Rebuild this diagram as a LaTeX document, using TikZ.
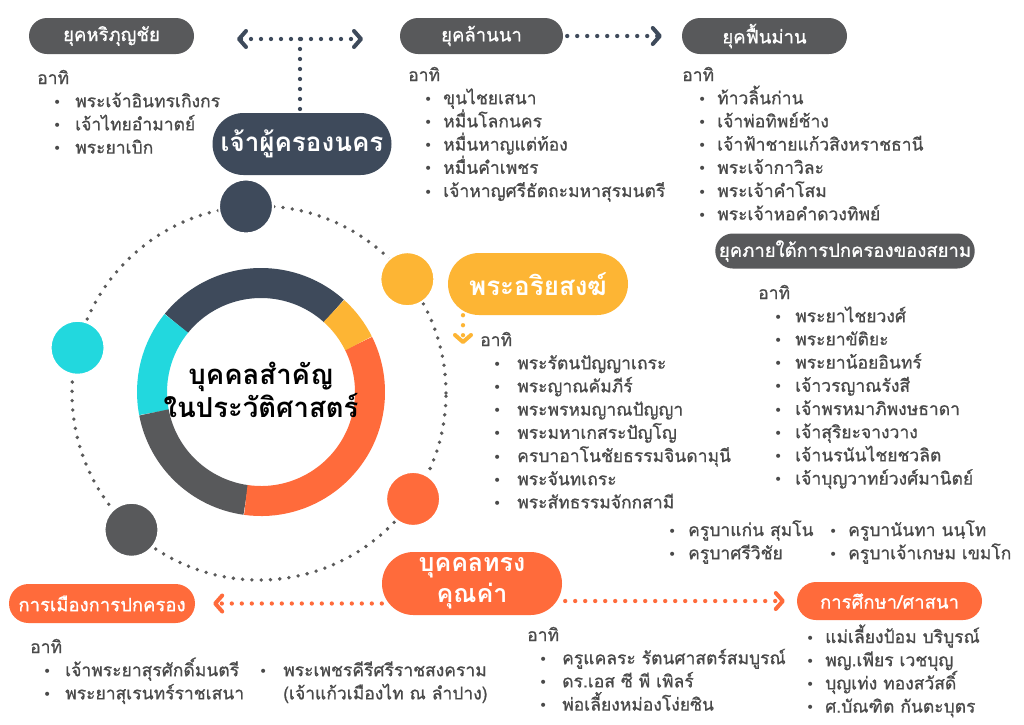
\documentclass[tikz,border=0pt]{standalone}
\usepackage{fontspec}
\usetikzlibrary{arrows.meta,shapes.misc}
\newfontfamily\thai[Script=Thai]{Loma}
\newfontfamily\thaim[Script=Thai, FakeBold=0.9]{Loma}
\newfontfamily\dejavu{DejaVu Sans}
\definecolor{navy}{HTML}{3E4A5B}
\definecolor{dgray}{HTML}{58595B}
\definecolor{yel}{HTML}{FDB534}
\definecolor{org}{HTML}{FF6B3B}
\definecolor{cyn}{HTML}{22D8DE}
\definecolor{txt}{HTML}{4A4A4A}
\definecolor{dotc}{HTML}{5A5A5A}
\newcommand\bul{{\dejavu\fontsize{14}{14}\selectfont •}}
\newcommand\Lst[1]{\vtop{\lineskiplimit=-100pt\lineskip=0pt\baselineskip=23.2pt #1}}
\newcommand\Ln[1]{\hbox{#1}}
\newcommand\It[3]{\hbox{\hspace*{#1pt}\makebox[#2pt][l]{\bul}#3}}
\tikzset{
  chev/.tip={Straight Barb[length=7pt, width=16pt, line width=4pt, round]},
  pill/.style={rounded rectangle, fill=#1, inner sep=0pt, text=white},
  smallpill/.style={pill=#1, font=\thaim\fontsize{18.5}{20}\selectfont},
  bigpill/.style={pill=#1, font=\thai\bfseries\fontsize{26}{30}\selectfont},
  lst/.style={anchor=base west, inner sep=0pt, text=txt, font=\thaim\fontsize{17.5}{23.2}\selectfont},
  dotline/.style={#1, line width=4.3pt, line cap=round, dash pattern=on 0pt off 10pt},
  ball/.style={circle, fill=#1, minimum size=54pt, inner sep=0pt, draw=white, line width=2pt}
}
\begin{document}
\begin{tikzpicture}[x=1pt,y=1pt]
\useasboundingbox (0,0) rectangle (1024,-724);
\fill[white] (0,0) rectangle (1024,-724);

% outer dotted circle
\coordinate (oc) at (259,-393);
\draw[dotc, line width=3.8pt, line cap=round, dash pattern=on 0pt off 9.3pt] (oc) circle[radius=187];

% donut
\coordinate (dc) at (261,-392);
\foreach \a/\b/\c in {48/141/navy, 141/190.8/cyn, 190.8/262/dgray, 262/386.5/org, 386.5/408/yel}
  \draw[\c, line width=30pt] ([shift={(\a:109)}]dc) arc[start angle=\a, end angle=\b, radius=109];
\node[font=\thai\bfseries\fontsize{27.5}{27}\selectfont, align=center, text=black] (title) at ([yshift=2pt]dc) {บุคคลสำคัญ\\ในประวัติศาสตร์};

% balls on the dotted circle
\node[ball=navy]  (bN) at ([shift={(94:187)}]oc) {};
\node[ball=yel]   (bY) at ([shift={(37.5:187)}]oc) {};
\node[ball=cyn]   (bC) at ([shift={(166:187)}]oc) {};
\node[ball=dgray] (bG) at ([shift={(227:187)}]oc) {};
\node[ball=org]   (bO) at ([shift={(-34.5:187)}]oc) {};

% pills
\node[smallpill=dgray, minimum width=165pt, minimum height=36pt] (hari) at (111.5,-36) {ยุคหริภุญชัย};
\node[smallpill=dgray, minimum width=163pt, minimum height=36pt] (lanna) at (481.5,-36) {ยุคล้านนา};
\node[smallpill=dgray, minimum width=165pt, minimum height=36pt] (fuen) at (764.5,-36) {ยุคฟื้นม่าน};
\node[smallpill=dgray, minimum width=254pt, minimum height=35pt] (siam) at (845,-251) {ยุคภายใต้การปกครองของสยาม};
\node[bigpill=navy, minimum width=179pt, minimum height=62pt] (ruler) at (302,-144) {เจ้าผู้ครองนคร};
\node[bigpill=yel, minimum width=180pt, minimum height=62pt] (ariya) at (538,-284) {พระอริยสงฆ์};
\node[pill=org, minimum width=180pt, minimum height=63pt, align=center, font=\thai\bfseries\fontsize{25}{31}\selectfont] (worth) at (472,-583.5) {บุคคลทรง\\คุณค่า};
\node[smallpill=org, minimum width=186pt, minimum height=39pt] (pol) at (102,-603.5) {การเมืองการปกครอง};
\node[smallpill=org, minimum width=185pt, minimum height=38pt] (edu) at (889.5,-601) {การศึกษา/ศาสนา};

% connectors
\coordinate (hL) at (237,-39);
\coordinate (hR) at (363,-39);
\coordinate (hM) at (300,-39);
\draw[dotline=navy, chev-chev] (hL) -- (hR);
\draw[dotline=navy] (hM) -- (hM |- ruler.north);
\draw[dotline=navy, -chev, shorten <=4pt, shorten >=20pt] (lanna.east) -- (fuen.west);
\coordinate (aEnd) at (463,-344);
\draw[dotline=yel, -chev] (ariya.south -| aEnd) -- (aEnd);
\draw[dotline=org, -chev, shorten >=18pt] (worth.west |- pol.east) -- (pol.east);
\draw[dotline=org, -chev, shorten <=3pt, shorten >=12pt] (worth.east |- edu.west) -- (edu.west);

% lists
\node[lst] (l1) at (37,-84) {\Lst{\Ln{อาทิ}\It{16}{22}{พระเจ้าอินทรเกิงกร}\It{16}{22}{เจ้าไทยอำมาตย์}\It{16}{22}{พระยาเบิก}}};
\node[lst] (l2) at (408,-81) {\Lst{\Ln{อาทิ}\It{16}{19}{ขุนไชยเสนา}\It{16}{19}{หมื่นโลกนคร}\It{16}{19}{หมื่นหาญแต่ท้อง}\It{16}{19}{หมื่นคำเพชร}\It{16}{19}{เจ้าหาญศรีธัตถะมหาสุรมนตรี}}};
\node[lst] (l3) at (682,-81) {\Lst{\Ln{อาทิ}\It{16}{19}{ท้าวลิ้นก่าน}\It{16}{19}{เจ้าพ่อทิพย์ช้าง}\It{16}{19}{เจ้าฟ้าชายแก้วสิงหราชธานี}\It{16}{19}{พระเจ้ากาวิละ}\It{16}{19}{พระเจ้าคำโสม}\It{16}{19}{พระเจ้าหอคำดวงทิพย์}}};
\node[lst] (l4) at (758,-299) {\Lst{\Ln{อาทิ}\It{16}{21}{พระยาไชยวงศ์}\It{16}{21}{พระยาขัติยะ}\It{16}{21}{พระยาน้อยอินทร์}\It{16}{21}{เจ้าวรญาณรังสี}\It{16}{21}{เจ้าพรหมาภิพงษธาดา}\It{16}{21}{เจ้าสุริยะจางวาง}\It{16}{21}{เจ้านรนันไชยชวลิต}\It{16}{21}{เจ้าบุญวาทย์วงศ์มานิตย์}}};
\node[lst] (l5) at (480,-346) {\Lst{\Ln{อาทิ}\It{13}{24}{พระรัตนปัญญาเถระ}\It{13}{24}{พระญาณคัมภีร์}\It{13}{24}{พระพรหมญาณปัญญา}\It{13}{24}{พระมหาเกสระปัญโญ}\It{13}{24}{ครบาอาโนชัยธรรมจินดามุนี}\It{13}{24}{พระจันทเถระ}\It{13}{24}{พระสัทธรรมจักกสามี}}};
\node[lst] (l6a) at (668,-536) {\Lst{\It{0}{20}{ครูบาแก่น สุมโน}\It{0}{20}{ครูบาศรีวิชัย}}};
\node[lst] (l6b) at (829,-536) {\Lst{\It{0}{19}{ครูบานันทา นนฺโท}\It{0}{19}{ครูบาเจ้าเกษม เขมโก}}};
\node[lst] (l7) at (806,-643) {\Lst{\It{0}{19}{แม่เลี้ยงป้อม บริบูรณ์}\It{0}{19}{พญ.เพียร เวชบุญ}\It{0}{19}{บุญเท่ง ทองสวัสดิ์}\It{0}{19}{ศ.บัณฑิต กันตะบุตร}}};
\node[lst] (l8a) at (30,-653) {\Lst{\Ln{อาทิ}\It{13}{22}{เจ้าพระยาสุรศักดิ์มนตรี}\It{13}{22}{พระยาสุเรนทร์ราชเสนา}}};
\node[lst] (l8b) at (259,-676.2) {\Lst{\It{0}{24}{พระเพชรคีรีศรีราชสงคราม}\Ln{\hspace*{24pt}(เจ้าแก้วเมืองไท ณ ลำปาง)}}};
\node[lst] (l9) at (527,-641) {\Lst{\Ln{อาทิ}\It{12}{23}{ครูแคลระ  รัตนศาสตร์สมบูรณ์}\It{12}{23}{ดร.เอส ซี พี เพิลร์}\It{12}{23}{พ่อเลี้ยงหม่องโง่ยซิน}}};
\end{tikzpicture}
\end{document}
